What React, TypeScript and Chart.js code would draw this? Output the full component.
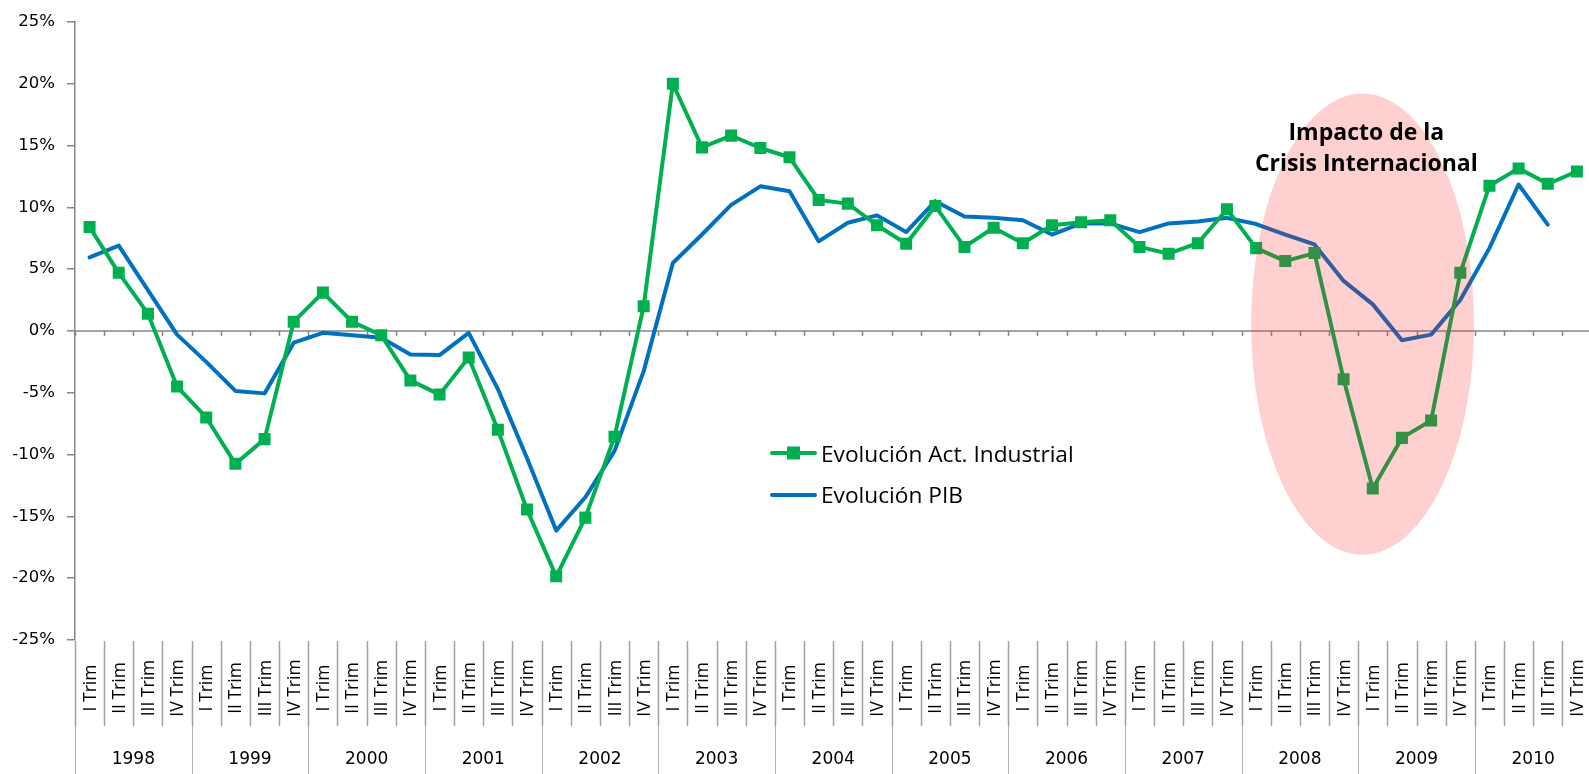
import React, { useEffect, useRef } from "react";
import { Chart, registerables } from "chart.js";

Chart.register(...registerables);

const years = ["1998", "1999", "2000", "2001", "2002", "2003", "2004", "2005", "2006", "2007", "2008", "2009", "2010"];
const quarters = ["I Trim", "II Trim", "III Trim", "IV Trim"];
const categories = years.flatMap((yr) => quarters.map((q) => `${q} ${yr}`));

const industrial = [
  8.4, 4.7, 1.4, -4.5,
  -7.0, -10.75, -8.75, 0.75,
  3.1, 0.75, -0.35, -4.0,
  -5.15, -2.15, -8.0, -14.45,
  -19.85, -15.1, -8.55, 2.0,
  20.0, 14.85, 15.8, 14.8,
  14.05, 10.6, 10.3, 8.55,
  7.05, 10.1, 6.8, 8.35,
  7.1, 8.55, 8.8, 8.95,
  6.8, 6.25, 7.1, 9.85,
  6.7, 5.65, 6.3, -3.9,
  -12.75, -8.65, -7.25, 4.7,
  11.75, 13.15, 11.9, 12.9,
];

const pib = [
  5.95, 6.9, 3.3, -0.3,
  -2.5, -4.85, -5.05, -0.95,
  -0.15, -0.35, -0.55, -1.9,
  -1.95, -0.15, -4.7, -10.3,
  -16.15, -13.45, -9.7, -3.25,
  5.5, 7.8, 10.2, 11.7,
  11.3, 7.25, 8.75, 9.35,
  8.0, 10.5, 9.25, 9.15,
  8.95, 7.8, 8.7, 8.7,
  8.0, 8.7, 8.85, 9.15,
  8.65, 7.8, 7.0, 4.05,
  2.15, -0.75, -0.3, 2.5,
  6.7, 11.85, 8.6, null,
];

const seriesNames = ["Evolución Act. Industrial", "Evolución PIB"];
const annotationLines = ["Impacto de la", "Crisis Internacional"];
const yMin = -25;
const yMax = 25;
const yStep = 5;

// crisis highlight ellipse, in data units (category index, percent)
const crisisCenterIndex = 43.65;
const crisisHalfWidth = 3.82;
const crisisTop = 19.2;
const crisisBottom = -18.1;
const annotationIndex = 43.78;
const annotationValues = [16.0, 13.5];

const GREEN = "#00B050";
const BLUE = "#0070C0";
const AXIS = "#868686";

const overlay = {
  id: "overlay",
  beforeDatasetsDraw(chart: any) {
    const { ctx, chartArea, scales } = chart;
    const x = scales.x;
    const y = scales.y;
    const y0 = y.getPixelForValue(0);
    ctx.save();
    ctx.strokeStyle = AXIS;
    ctx.lineWidth = 1.5;
    ctx.beginPath();
    ctx.moveTo(chartArea.left, y0);
    ctx.lineTo(chartArea.right, y0);
    ctx.stroke();
    for (let k = 0; k <= categories.length; k++) {
      const xb = Math.round(x.getPixelForValue(k - 0.5)) + 0.5;
      ctx.beginPath();
      ctx.moveTo(xb, y0);
      ctx.lineTo(xb, y0 + 5);
      ctx.stroke();
    }
    ctx.restore();
  },
  afterDatasetsDraw(chart: any) {
    const { ctx, chartArea, scales } = chart;
    const x = scales.x;
    const y = scales.y;
    ctx.save();

    // ellipse highlight
    const cx = x.getPixelForValue(crisisCenterIndex);
    const rx = x.getPixelForValue(crisisCenterIndex + crisisHalfWidth) - cx;
    const yt = y.getPixelForValue(crisisTop);
    const yb = y.getPixelForValue(crisisBottom);
    ctx.fillStyle = "rgba(255, 20, 20, 0.2)";
    ctx.beginPath();
    ctx.ellipse(cx, (yt + yb) / 2, rx, (yb - yt) / 2, 0, 0, Math.PI * 2);
    ctx.fill();

    // annotation
    ctx.fillStyle = "#000";
    ctx.font = "bold 23px 'Open Sans'";
    ctx.textAlign = "center";
    ctx.textBaseline = "middle";
    const ax = x.getPixelForValue(annotationIndex);
    annotationLines.forEach((t, i) => {
      ctx.fillText(t, ax, y.getPixelForValue(annotationValues[i]));
    });

    // bottom multi-level labels
    const bottom = chartArea.bottom;
    const qTop = bottom + 1;
    const qBottom = bottom + 86;
    ctx.strokeStyle = "#a0a0a0";
    ctx.lineWidth = 1.5;
    for (let k = 0; k <= categories.length; k++) {
      const xb = Math.round(x.getPixelForValue(k - 0.5)) + 0.5;
      ctx.beginPath();
      ctx.moveTo(xb, qTop);
      ctx.lineTo(xb, qBottom);
      ctx.stroke();
    }
    ctx.strokeStyle = "#b4b4b4";
    ctx.lineWidth = 1;
    for (let k = 0; k <= years.length; k++) {
      const xb = Math.round(x.getPixelForValue(k * 4 - 0.5)) + 0.5;
      ctx.beginPath();
      ctx.moveTo(xb, qBottom);
      ctx.lineTo(xb, chart.height);
      ctx.stroke();
    }
    ctx.fillStyle = "#000";
    ctx.font = "17.5px 'Open Sans'";
    ctx.textAlign = "center";
    ctx.textBaseline = "middle";
    categories.forEach((_, i) => {
      const px = x.getPixelForValue(i);
      ctx.save();
      ctx.translate(px + 1, bottom + 48);
      ctx.rotate(-Math.PI / 2);
      ctx.fillText(quarters[i % 4], 0, 0);
      ctx.restore();
    });
    ctx.font = "17px 'DejaVu Sans'";
    years.forEach((yr, j) => {
      const px = x.getPixelForValue(j * 4 + 1.5);
      ctx.fillText(yr, px, bottom + 120);
    });

    // legend
    const lx0 = 772;
    const lx1 = 815;
    const ly = [453, 495];
    ctx.lineCap = "round";
    ctx.lineWidth = 4;
    ctx.strokeStyle = GREEN;
    ctx.beginPath();
    ctx.moveTo(lx0, ly[0]);
    ctx.lineTo(lx1, ly[0]);
    ctx.stroke();
    ctx.fillStyle = GREEN;
    ctx.fillRect((lx0 + lx1) / 2 - 6.5, ly[0] - 6.5, 13, 13);
    ctx.strokeStyle = BLUE;
    ctx.beginPath();
    ctx.moveTo(lx0, ly[1]);
    ctx.lineTo(lx1, ly[1]);
    ctx.stroke();
    ctx.fillStyle = "#000";
    ctx.font = "22.7px 'Open Sans'";
    ctx.textAlign = "left";
    ctx.textBaseline = "alphabetic";
    ctx.fillText(seriesNames[0], 821, ly[0] + 8.5);
    ctx.fillText(seriesNames[1], 821, ly[1] + 8);

    ctx.restore();
  },
};

export default function App() {
  const ref = useRef<HTMLCanvasElement | null>(null);

  useEffect(() => {
    if (!ref.current) return;
    const chart = new Chart(ref.current, {
      type: "line",
      data: {
        labels: categories,
        datasets: [
          {
            label: seriesNames[0],
            data: industrial,
            borderColor: GREEN,
            backgroundColor: GREEN,
            borderWidth: 4,
            pointStyle: "rect",
            pointRadius: 8.5,
            pointBorderWidth: 0,
            pointBackgroundColor: GREEN,
            tension: 0,
            borderJoinStyle: "round",
            borderCapStyle: "round",
          },
          {
            label: seriesNames[1],
            data: pib,
            borderColor: BLUE,
            backgroundColor: BLUE,
            borderWidth: 4,
            pointRadius: 0,
            tension: 0,
            borderJoinStyle: "round",
            borderCapStyle: "round",
          },
        ],
      },
      options: {
        responsive: false,
        animation: false,
        devicePixelRatio: 1,
        layout: { padding: { left: 0, right: 2, top: 20, bottom: 134 } },
        plugins: {
          legend: { display: false },
          tooltip: { enabled: false },
        },
        scales: {
          x: {
            type: "category",
            display: false,
            offset: true,
          },
          y: {
            min: yMin,
            max: yMax,
            afterFit: (s: any) => {
              s.width = 75;
            },
            ticks: {
              stepSize: yStep,
              padding: 12,
              color: "#000",
              font: { family: "'DejaVu Sans'", size: 16.5 },
              callback: (v: any) => `${v}%`,
            },
            grid: {
              drawOnChartArea: false,
              drawTicks: true,
              tickLength: 8,
              color: AXIS,
              lineWidth: 1.5,
            },
            border: { display: true, color: AXIS, width: 1.5 },
          },
        },
      },
      plugins: [overlay],
    });
    return () => chart.destroy();
  }, []);

  return (
    <div
      style={{
        position: "fixed",
        left: 0,
        top: 0,
        width: 1589,
        height: 774,
        overflow: "hidden",
        background: "#fff",
      }}
    >
      <canvas ref={ref} width={1600} height={774} style={{ display: "block" }} />
    </div>
  );
}
